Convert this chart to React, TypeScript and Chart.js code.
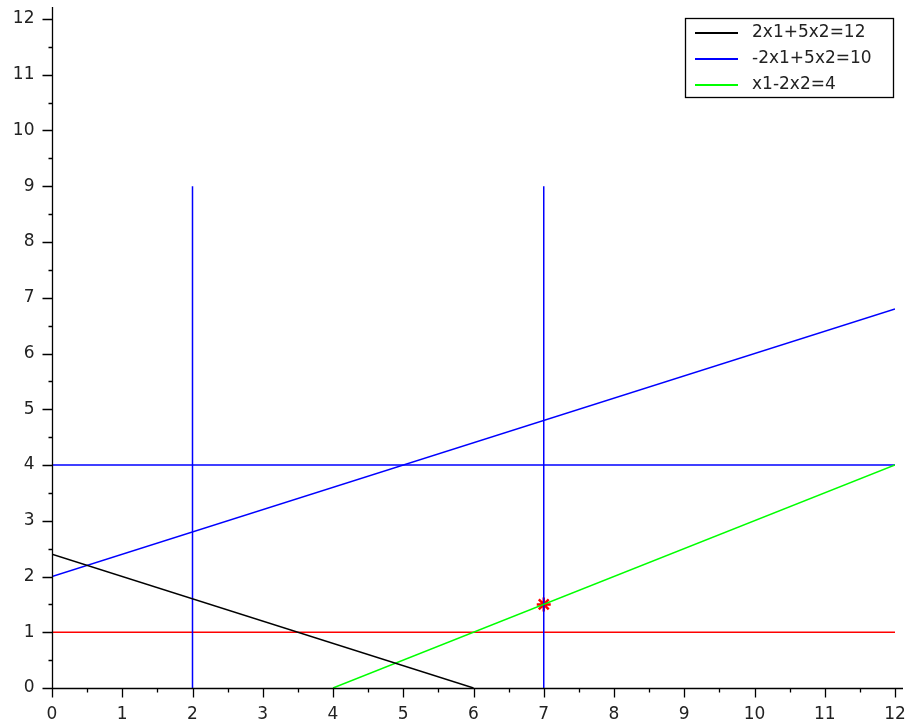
import React, { useEffect, useRef } from "react";
import { Chart, registerables } from "chart.js";

Chart.register(...registerables);

const xTicks = [0, 1, 2, 3, 4, 5, 6, 7, 8, 9, 10, 11, 12];
const yTicks = [0, 1, 2, 3, 4, 5, 6, 7, 8, 9, 10, 11, 12];

const line1 = [{ x: 0, y: 2.4 }, { x: 6, y: 0 }];
const line2 = [{ x: 0, y: 2 }, { x: 12, y: 6.8 }];
const line3 = [{ x: 4, y: 0 }, { x: 12, y: 4 }];
const hLine4 = [{ x: 0, y: 4 }, { x: 12, y: 4 }];
const vLine2 = [{ x: 2, y: 0 }, { x: 2, y: 9 }];
const vLine7 = [{ x: 7, y: 0 }, { x: 7, y: 9 }];
const hLine1 = [{ x: 0, y: 1 }, { x: 12, y: 1 }];
const optimum = [{ x: 7, y: 1.5 }];

const legendLabels = ["2x1+5x2=12", "-2x1+5x2=10", "x1-2x2=4"];
const legendColors = ["#000000", "#0000ff", "#00ff00"];

const FONT = "17px 'DejaVu Sans'";
const TEXT = "#222222";

const axesPlugin = {
  id: "scilabAxes",
  afterDraw(chart: any) {
    const ctx = chart.ctx;
    const xs = chart.scales.x;
    const ys = chart.scales.y;
    const area = chart.chartArea;
    ctx.save();
    ctx.strokeStyle = "#000";
    ctx.lineWidth = 1.3;
    const x0 = Math.round(xs.getPixelForValue(0)) + 0.5;
    const y0 = Math.round(ys.getPixelForValue(0)) + 0.5;
    ctx.beginPath();
    ctx.moveTo(x0, 7);
    ctx.lineTo(x0, y0);
    ctx.moveTo(x0, y0);
    ctx.lineTo(area.right + 8, y0);
    for (let v = 0; v <= 12; v += 0.5) {
      const px = Math.round(xs.getPixelForValue(v)) + 0.5;
      const major = Number.isInteger(v);
      ctx.moveTo(px, y0);
      ctx.lineTo(px, y0 + (major ? 9 : 4));
    }
    for (let v = 0; v <= 12; v += 0.5) {
      const py = Math.round(ys.getPixelForValue(v)) + 0.5;
      const major = Number.isInteger(v);
      ctx.moveTo(x0, py);
      ctx.lineTo(x0 - (major ? 10 : 4), py);
    }
    ctx.stroke();
    ctx.fillStyle = TEXT;
    ctx.font = FONT;
    ctx.textAlign = "center";
    ctx.textBaseline = "middle";
    xTicks.forEach((v) => {
      ctx.fillText(String(v), xs.getPixelForValue(v), y0 + 26);
    });
    ctx.textAlign = "right";
    yTicks.forEach((v) => {
      ctx.fillText(String(v), x0 - 18, ys.getPixelForValue(v));
    });
    // legend
    const bx = 685.5, by = 18.5, bw = 208, bh = 79;
    ctx.fillStyle = "#fff";
    ctx.fillRect(bx, by, bw, bh);
    ctx.lineWidth = 1.3;
    ctx.strokeStyle = "#000";
    ctx.strokeRect(bx, by, bw, bh);
    ctx.font = FONT;
    ctx.textAlign = "left";
    legendLabels.forEach((lab, i) => {
      const ry = 33 + i * 26;
      ctx.strokeStyle = legendColors[i];
      ctx.lineWidth = 2;
      ctx.beginPath();
      ctx.moveTo(695, ry);
      ctx.lineTo(738, ry);
      ctx.stroke();
      ctx.fillStyle = TEXT;
      ctx.fillText(lab, 752, ry);
    });
    ctx.restore();
  },
};

export default function App() {
  const ref = useRef<HTMLCanvasElement>(null);
  useEffect(() => {
    if (!ref.current) return;
    const mk = (label: string, data: any[], color: string) => ({
      label,
      data,
      borderColor: color,
      backgroundColor: color,
      borderWidth: 1.5,
      pointRadius: 0,
      showLine: true,
      fill: false,
    });
    const chart = new Chart(ref.current, {
      type: "scatter",
      data: {
        datasets: [
          mk(legendLabels[0], line1, "#000000"),
          mk(legendLabels[1], line2, "#0000ff"),
          mk(legendLabels[2], line3, "#00ff00"),
          mk("x2=4", hLine4, "#0000ff"),
          mk("x1=2", vLine2, "#0000ff"),
          mk("x1=7", vLine7, "#0000ff"),
          mk("x2=1", hLine1, "#ff0000"),
          {
            label: "optimum",
            data: optimum,
            borderColor: "#ff0000",
            backgroundColor: "#ff0000",
            pointStyle: "star",
            pointRadius: 7,
            borderWidth: 2.5,
            showLine: false,
          },
        ],
      },
      options: {
        responsive: false,
        animation: false,
        layout: { autoPadding: false, padding: { left: 52, right: 13, top: 19, bottom: 38 } },
        plugins: { legend: { display: false }, tooltip: { enabled: false } },
        scales: {
          x: { type: "linear", min: 0, max: 12, display: false },
          y: { type: "linear", min: 0, max: 12, display: false },
        },
      },
      plugins: [axesPlugin],
    });
    return () => chart.destroy();
  }, []);
  return (
    <canvas
      ref={ref}
      width={908}
      height={726}
      style={{ display: "block", position: "absolute", left: 0, top: 0 }}
    />
  );
}
